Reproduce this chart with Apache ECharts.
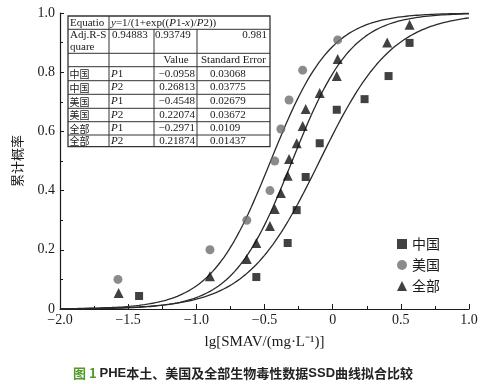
<!DOCTYPE html>
<html><head><meta charset="utf-8">
<script src="https://cdn.jsdelivr.net/npm/echarts@6/dist/echarts.min.js"></script>
<style>html,body{margin:0;padding:0;background:#fff}#c{width:503px;height:384px}</style>
</head><body><div id="c"></div>
<script>
// ---- data ----
const groups = ['中国', '美国', '全部'];
const cnX = [-1.42, -0.56, -0.33, -0.264, -0.198, -0.095, 0.03, 0.234, 0.41, 0.564];
const cnY = [0.044, 0.108, 0.223, 0.334, 0.446, 0.56, 0.673, 0.709, 0.787, 0.899];
const usX = [-1.575, -0.90, -0.63, -0.46, -0.425, -0.38, -0.32, -0.22, 0.037];
const usY = [0.10, 0.20, 0.30, 0.40, 0.50, 0.608, 0.706, 0.807, 0.909];
const allX = [-1.57, -0.90, -0.63, -0.56, -0.46, -0.425, -0.38, -0.33, -0.32, -0.264, -0.22, -0.198, -0.095, 0.03, 0.037, 0.40, 0.564];
const allY = [0.054, 0.111, 0.169, 0.223, 0.28, 0.338, 0.392, 0.45, 0.507, 0.56, 0.618, 0.676, 0.73, 0.787, 0.845, 0.90, 0.96];
// fitted parameters (from table)
const P1 = [-0.0958, -0.4548, -0.2971];
const P2 = [0.26813, 0.22074, 0.21874];
const adjR2 = ['0.94883', '0.93749', '0.981'];
const tableRows = [
  ['中国', 'P1', '\u22120.0958', '0.03068'],
  ['中国', 'P2', '0.26813', '0.03775'],
  ['美国', 'P1', '\u22120.4548', '0.02679'],
  ['美国', 'P2', '0.22074', '0.03672'],
  ['全部', 'P1', '\u22120.2971', '0.0109'],
  ['全部', 'P2', '0.21874', '0.01437']
];
const xTicks = ['\u22122.0', '\u22121.5', '\u22121.0', '\u22120.5', '0', '0.5', '1.0'];
const yTicks = ['0', '0.2', '0.4', '0.6', '0.8', '1.0'];

const zip = (xs, ys) => xs.map((x, i) => [x, ys[i]]);
function curve(p1, p2) {
  const pts = [];
  for (let k = 0; k <= 150; k++) {
    const x = -2 + k * 0.02;
    pts.push([x, 1 / (1 + Math.exp((p1 - x) / p2))]);
  }
  return pts;
}

const serif = 'Liberation Serif, Times New Roman, serif';
const cjk = 'Noto Sans CJK SC';
const ink = '#1a1a1a';

// ---- table graphic ----
const tL = 68, tR = 270;
const hy = [16, 29.3, 53.3, 66.7, 80.7, 94.3, 108.3, 121.7, 135, 146.7];
const g = [];
g.push({type: 'rect', shape: {x: tL, y: hy[0], width: tR - tL, height: hy[9] - hy[0]}, style: {fill: '#fff', stroke: '#333', lineWidth: 1.3}, z: 50});
hy.slice(1, 9).forEach(y => g.push({type: 'line', shape: {x1: tL, y1: y, x2: tR, y2: y}, style: {stroke: '#333', lineWidth: 1}, z: 51}));
g.push({type: 'line', shape: {x1: 109, y1: hy[0], x2: 109, y2: hy[9]}, style: {stroke: '#333', lineWidth: 1}, z: 51});
g.push({type: 'line', shape: {x1: 154, y1: hy[1], x2: 154, y2: hy[9]}, style: {stroke: '#333', lineWidth: 1}, z: 51});
g.push({type: 'line', shape: {x1: 197, y1: hy[1], x2: 197, y2: hy[9]}, style: {stroke: '#333', lineWidth: 1}, z: 51});
function txt(x, y, t, align, font, rich) {
  const o = {type: 'text', x: x, y: y, z: 52, style: {text: t, fill: ink, font: font || ('11px ' + serif), textAlign: align || 'left', textVerticalAlign: 'middle'}};
  if (rich) o.style.rich = rich;
  return o;
}
const itRich = {i: {fontStyle: 'italic', fontFamily: serif, fontSize: 11, fill: ink}, n: {fontFamily: serif, fontSize: 11, fill: ink}};
g.push(txt(70, 22.7, 'Equatio'));
g.push(txt(111, 22.7, '{i|y}{n|=1/(1+exp((}{i|P}{n|1-}{i|x}{n|)/}{i|P}{n|2))}', 'left', null, itRich));
g.push(txt(70, 35, 'Adj.R-S'));
g.push(txt(70, 47, 'quare'));
g.push(txt(112, 35, adjR2[0]));
g.push(txt(155, 35, adjR2[1]));
g.push(txt(267, 35, adjR2[2], 'right'));
g.push(txt(176, 60, 'Value', 'center'));
g.push(txt(233.5, 60, 'Standard Error', 'center'));
tableRows.forEach((r, i) => {
  const cy = (hy[i + 3] + hy[i + 4]) / 2;
  g.push(txt(69.5, cy + 0.5, r[0], 'left', '10px ' + cjk));
  g.push(txt(111, cy, '{i|P}{n|' + r[1].slice(1) + '}', 'left', null, itRich));
  g.push(txt(195, cy, r[2], 'right'));
  g.push(txt(210, cy, r[3], 'left'));
});
// caption
g.push({type: 'text', x: 243, y: 373, z: 52, style: {
  text: '{g|图 1 }{s|PHE}{c|本土、美国及全部生物毒性数据}{s|SSD}{c|曲线拟合比较}',
  textAlign: 'center', textVerticalAlign: 'middle',
  rich: {
    g: {fill: '#4f9a2a', fontSize: 13, fontWeight: 'bold', fontFamily: cjk},
    s: {fill: '#222', fontSize: 13, fontWeight: 'bold', fontFamily: 'Liberation Sans, Arial, sans-serif'},
    c: {fill: '#222', fontSize: 13, fontWeight: 'bold', fontFamily: cjk}
  }
}});

const chart = echarts.init(document.getElementById('c'));
const lineStyle = {color: '#2a2a2a', width: 1.3};
chart.setOption({
  animation: false,
  backgroundColor: '#fff',
  grid: {left: 60, right: 34, top: 13, bottom: 75},
  legend: {
    data: groups, orient: 'vertical', left: 392, top: 232,
    itemWidth: 10, itemHeight: 10, itemGap: 7,
    textStyle: {fontFamily: cjk, fontSize: 14, color: ink}
  },
  xAxis: {
    type: 'value', min: -2, max: 1, interval: 0.5,
    name: 'lg[SMAV/(mg·L\u207B\u00B9)]', nameLocation: 'middle', nameGap: 26,
    nameTextStyle: {fontFamily: serif, fontSize: 15, color: ink},
    axisLine: {onZero: false, lineStyle: {color: ink, width: 1.2}},
    axisTick: {inside: true, length: 5, lineStyle: {color: ink}},
    minorTick: {show: true, splitNumber: 2, length: 3, lineStyle: {color: ink}},
    splitLine: {show: false},
    axisLabel: {fontFamily: serif, fontSize: 14, color: ink, margin: 4,
      formatter: v => xTicks[Math.round((v + 2) / 0.5)]}
  },
  yAxis: {
    type: 'value', min: 0, max: 1, interval: 0.2,
    name: '累计概率', nameLocation: 'middle', nameGap: 36, nameRotate: 90,
    nameTextStyle: {fontFamily: cjk, fontSize: 13, color: ink},
    axisLine: {show: true, onZero: false, lineStyle: {color: ink, width: 1.2}},
    axisTick: {show: true, inside: true, length: 4, lineStyle: {color: ink}},
    minorTick: {show: true, splitNumber: 2, length: 3, lineStyle: {color: ink}},
    splitLine: {show: false},
    axisLabel: {fontFamily: serif, fontSize: 14, color: ink, margin: 5,
      formatter: v => yTicks[Math.round(v / 0.2)]}
  },
  graphic: g,
  series: [
    {name: groups[0], type: 'scatter', symbol: 'rect', symbolSize: 8, itemStyle: {color: '#111'}, data: zip(cnX, cnY), z: 5},
    {name: groups[1], type: 'scatter', symbol: 'circle', symbolSize: 9, itemStyle: {color: '#6e6e6e'}, data: zip(usX, usY), z: 5},
    {name: groups[2], type: 'scatter', symbol: 'triangle', symbolSize: 10, itemStyle: {color: '#111'}, data: zip(allX, allY), z: 5},
    {name: 'fit-cn', type: 'line', showSymbol: false, symbol: 'none', lineStyle: lineStyle, data: curve(P1[0], P2[0]), z: 3},
    {name: 'fit-us', type: 'line', showSymbol: false, symbol: 'none', lineStyle: lineStyle, data: curve(P1[1], P2[1]), z: 3},
    {name: 'fit-all', type: 'line', showSymbol: false, symbol: 'none', lineStyle: lineStyle, data: curve(P1[2], P2[2]), z: 3}
  ]
});
</script></body></html>
